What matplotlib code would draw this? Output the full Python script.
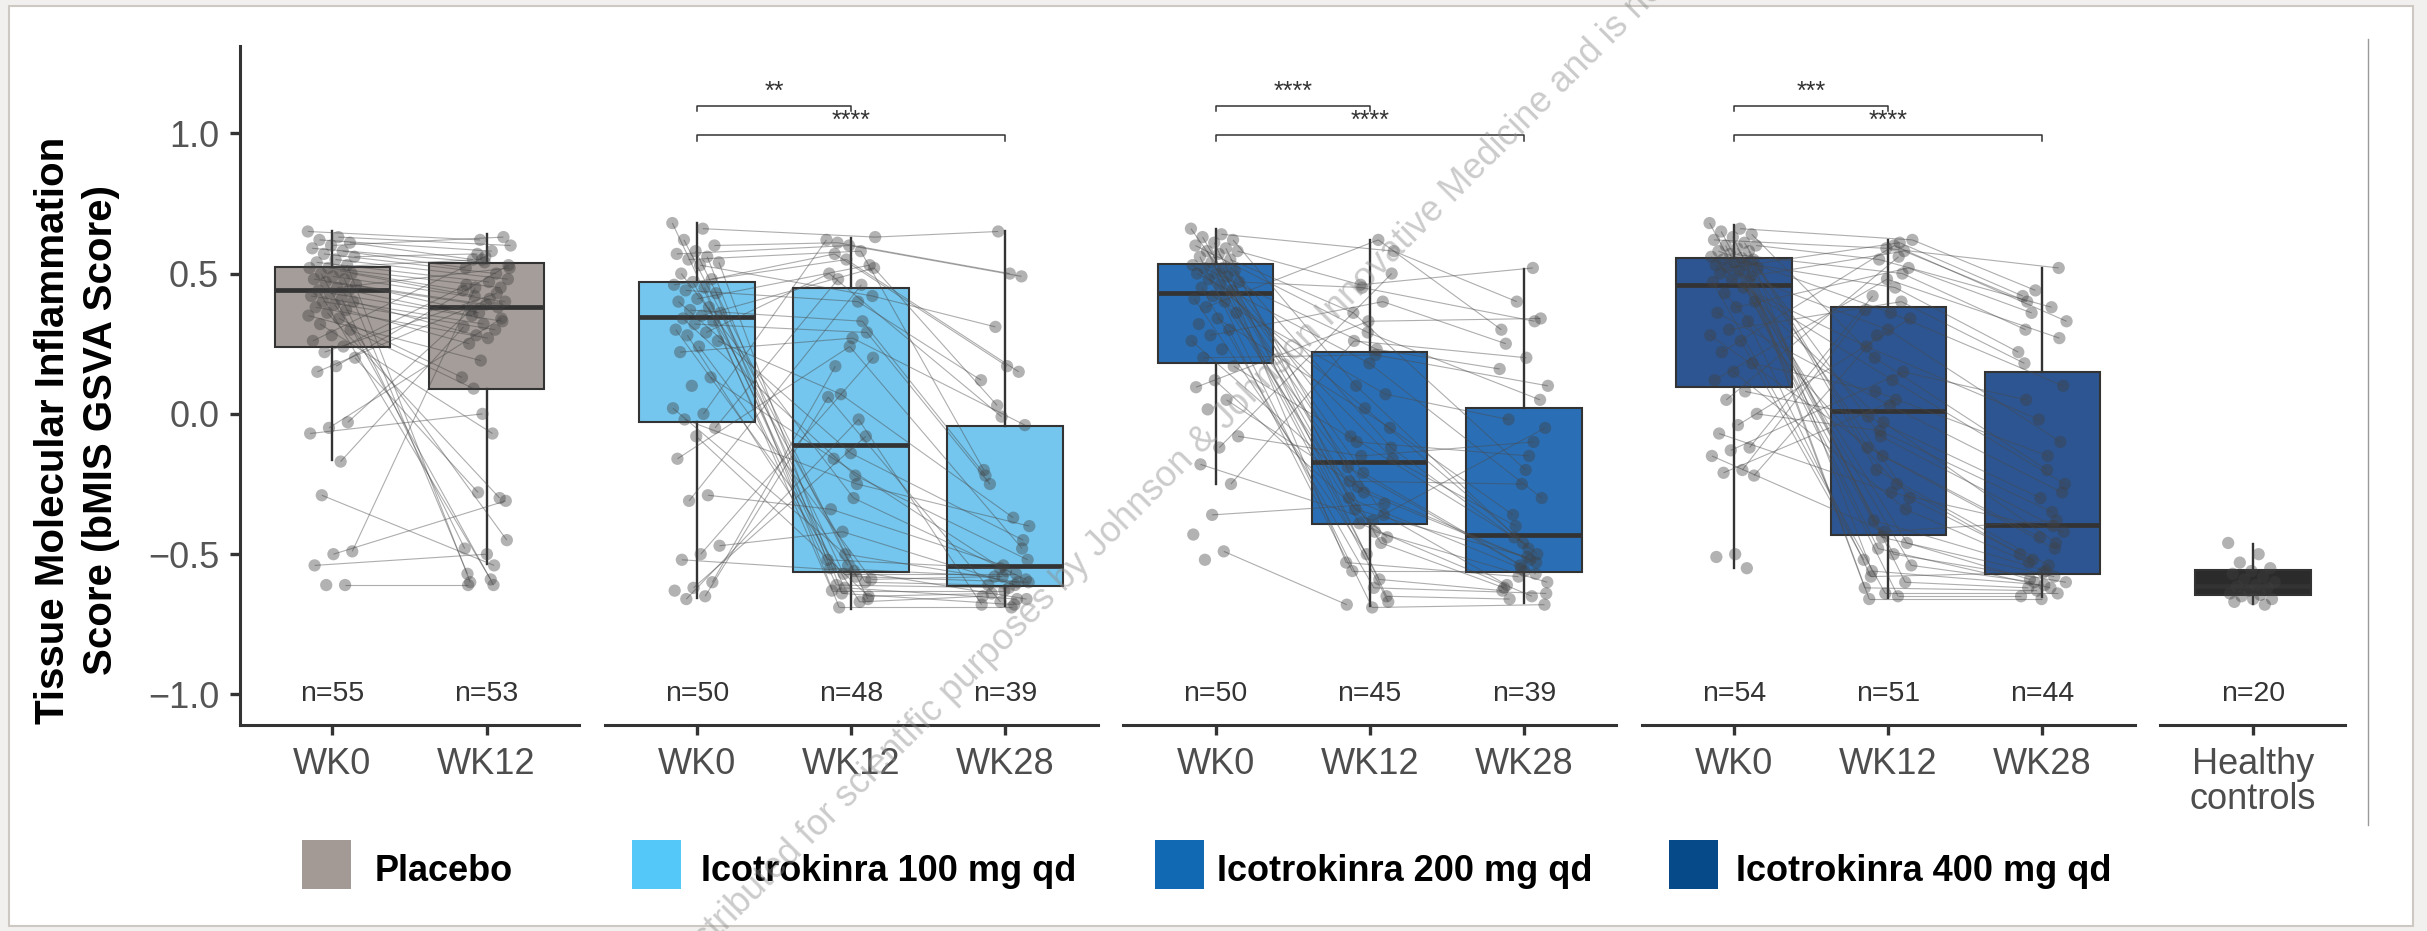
import numpy as np
import matplotlib.pyplot as plt
from matplotlib.patches import Rectangle
from matplotlib.lines import Line2D
from matplotlib.collections import LineCollection

plt.rcParams['font.family'] = ['Liberation Sans', 'DejaVu Sans']

nan = np.nan

visits3 = ['WK0', 'WK12', 'WK28']
visits2 = ['WK0', 'WK12']

# placebo: one entry per patient, nan = visit missing
pbo_wk0 = [0.65, 0.63, 0.62, 0.61, 0.60, 0.59, 0.58, 0.57, 0.56, 0.55,
           0.54, 0.53, 0.52, 0.52, 0.51, 0.50, 0.50, 0.49, 0.48, 0.48,
           0.47, 0.46, 0.45, 0.44, 0.44, 0.43, 0.42, 0.41, 0.40, 0.40,
           0.39, 0.38, 0.37, 0.36, 0.35, 0.34, 0.32, 0.30, 0.28, 0.26,
           0.24, 0.22, 0.20, 0.17, 0.15, -0.03, -0.05, -0.07, -0.17, -0.29,
           -0.49, -0.50, -0.54, -0.61, -0.61]
pbo_wk12 = [0.62, 0.60, 0.58, 0.55, 0.63, 0.54, 0.52, 0.50, 0.57, 0.48,
            0.47, -0.60, 0.45, 0.55, 0.44, -0.61, 0.42, 0.40, 0.39, -0.57,
            0.38, 0.36, 0.52, -0.59, 0.35, 0.33, 0.32, -0.48, 0.30, 0.28,
            -0.45, 0.27, 0.25, -0.30, 0.19, 0.13, -0.07, 0.09, nan, 0.56,
            0.46, 0.43, -0.28, 0.53, 0.41, 0.37, 0.34, 0.0, 0.31, -0.54,
            0.45, -0.31, -0.50, -0.61, nan]

# icotrokinra 100 mg
d100_wk0 = [0.68, 0.66, 0.62, 0.60, 0.58, 0.57, 0.56, 0.55, 0.54, 0.53,
            0.50, 0.48, 0.47, 0.46, 0.45, 0.44, 0.43, 0.41, 0.40, 0.38,
            0.37, 0.36, 0.35, 0.34, 0.33, 0.32, 0.30, 0.29, 0.28, 0.26,
            0.24, 0.22, 0.13, 0.10, 0.02, 0.0, -0.02, -0.05, -0.08, -0.16,
            -0.29, -0.31, -0.47, -0.50, -0.52, -0.60, -0.62, -0.63, -0.65, -0.66]
d100_wk12 = [-0.62, 0.63, -0.58, 0.61, -0.66, 0.60, -0.55, 0.58, -0.64, 0.42,
             -0.30, 0.57, -0.60, 0.55, -0.52, 0.40, -0.69, 0.53, -0.14, -0.63,
             0.33, -0.57, 0.52, -0.22, -0.61, 0.29, -0.54, 0.50, -0.67, 0.07,
             -0.59, 0.27, -0.16, nan, -0.50, 0.62, -0.25, 0.48, -0.65, 0.24,
             -0.34, 0.46, -0.42, 0.20, -0.56, 0.17, -0.08, nan, 0.06, -0.02]
d100_wk28 = [-0.66, 0.65, -0.60, 0.50, nan, 0.49, -0.58, -0.20, -0.68, 0.31,
             -0.59, 0.17, -0.61, 0.15, -0.55, 0.12, -0.69, nan, -0.45, -0.63,
             -0.22, -0.57, 0.03, -0.52, -0.62, -0.25, nan, -0.01, -0.65, -0.37,
             -0.58, -0.04, -0.56, nan, -0.60, nan, -0.40, nan, -0.64, -0.48,
             -0.54, nan, -0.61, nan, -0.66, nan, nan, nan, -0.67, -0.68]

# icotrokinra 200 mg
d200_wk0 = [0.66, 0.64, 0.63, 0.62, 0.61, 0.60, 0.59, 0.58, 0.58, 0.57,
            0.56, 0.55, 0.54, 0.53, 0.52, 0.52, 0.51, 0.50, 0.50, 0.49,
            0.48, 0.47, 0.46, 0.45, 0.44, 0.42, 0.41, 0.40, 0.38, 0.36,
            0.34, 0.32, 0.30, 0.28, 0.26, 0.23, 0.20, 0.17, 0.12, 0.095,
            0.05, 0.016, -0.08, -0.12, -0.18, -0.25, -0.36, -0.43, -0.49, -0.52]
d200_wk12 = [-0.21, 0.58, -0.42, 0.10, -0.65, 0.29, -0.30, -0.59, 0.46, -0.12,
             -0.69, 0.36, -0.36, 0.02, -0.53, 0.23, -0.26, -0.67, 0.18, -0.08,
             -0.46, 0.45, -0.16, -0.62, -0.34, 0.07, -0.50, -0.19, 0.62, -0.39,
             -0.05, nan, -0.56, 0.40, -0.28, nan, 0.21, -0.10, -0.44, 0.33,
             -0.24, nan, -0.15, 0.50, -0.38, 0.26, -0.32, nan, -0.68, nan]
d200_wk28 = [-0.57, 0.40, -0.60, -0.48, -0.66, 0.05, -0.55, -0.63, 0.52, -0.44,
             -0.68, -0.20, -0.61, -0.50, -0.58, 0.16, -0.52, nan, -0.30, -0.46,
             -0.62, 0.33, -0.40, -0.64, -0.51, -0.02, nan, -0.54, 0.30, -0.65,
             -0.36, nan, -0.56, 0.25, -0.53, nan, 0.10, -0.15, nan, 0.34,
             -0.25, nan, -0.10, nan, -0.05, 0.20, nan, nan, nan, nan]

# icotrokinra 400 mg
d400_wk0 = [0.68, 0.66, 0.65, 0.64, 0.63, 0.62, 0.61, 0.60, 0.60, 0.59,
            0.58, 0.58, 0.57, 0.56, 0.555, 0.55, 0.55, 0.54, 0.53, 0.53,
            0.52, 0.52, 0.51, 0.50, 0.49, 0.48, 0.47, 0.45, 0.43, 0.40,
            0.38, 0.36, 0.33, 0.30, 0.28, 0.26, 0.22, 0.18, 0.15, 0.12,
            0.08, 0.05, 0.0, -0.04, -0.07, -0.12, -0.13, -0.15, -0.20, -0.21,
            -0.22, -0.50, -0.51, -0.55]
d400_wk12 = [-0.44, 0.62, -0.50, 0.20, -0.60, 0.59, -0.12, -0.65, 0.55, -0.30,
             0.36, -0.56, 0.50, -0.03, -0.62, 0.45, -0.20, -0.46, 0.30, -0.66,
             0.61, -0.08, -0.54, 0.12, -0.38, 0.58, -0.64, 0.24, -0.25, -0.48,
             0.52, 0.03, -0.58, 0.40, -0.15, -0.52, 0.60, 0.08, -0.34, 0.48,
             -0.01, 0.56, -0.06, 0.34, -0.28, 0.42, 0.15, -0.42, 0.37, 0.05,
             0.28, nan, nan, nan]
d400_wk28 = [-0.58, 0.44, -0.60, -0.20, -0.62, 0.52, -0.44, -0.65, 0.38, -0.52,
             0.10, -0.61, 0.30, -0.46, -0.63, 0.22, -0.54, -0.59, -0.10, -0.66,
             0.42, -0.40, -0.60, -0.25, -0.56, 0.40, -0.64, -0.02, -0.50, -0.62,
             0.36, -0.28, -0.565, 0.18, -0.48, nan, 0.33, -0.15, -0.53, 0.27,
             -0.30, nan, -0.35, nan, -0.42, nan, 0.05, -0.38, nan, nan,
             nan, nan, nan, nan]

# healthy controls
hc_vals = [-0.46, -0.50, -0.53, -0.55, -0.56, -0.57, -0.58, -0.59, -0.60, -0.61,
           -0.615, -0.62, -0.63, -0.64, -0.645, -0.65, -0.66, -0.66, -0.67, -0.68]

# box stats: whisker low, q1, median, q3, whisker high
pbo_box = [[-0.165, 0.237, 0.443, 0.525, 0.650], [-0.536, 0.087, 0.381, 0.538, 0.640]]
d100_box = [[-0.656, -0.029, 0.345, 0.469, 0.681], [-0.695, -0.565, -0.111, 0.449, 0.627],
            [-0.684, -0.613, -0.541, -0.045, 0.652]]
d200_box = [[-0.251, 0.183, 0.430, 0.533, 0.660], [-0.684, -0.393, -0.172, 0.220, 0.621],
            [-0.673, -0.562, -0.433, 0.021, 0.517]]
d400_box = [[-0.549, 0.096, 0.460, 0.556, 0.672], [-0.657, -0.432, 0.012, 0.380, 0.621],
            [-0.653, -0.569, -0.395, 0.151, 0.519]]
hc_box = [[-0.677, -0.647, -0.612, -0.555, -0.463]]

pbo_n = [55, 53]
d100_n = [50, 48, 39]
d200_n = [50, 45, 39]
d400_n = [54, 51, 44]
hc_n = [20]

d100_sig = ['**', '****']
d200_sig = ['****', '****']
d400_sig = ['***', '****']

legend_labels = ['Placebo', 'Icotrokinra 100 mg qd', 'Icotrokinra 200 mg qd', 'Icotrokinra 400 mg qd']
legend_colors = ['#A39A95', '#55C8FA', '#1168B3', '#064A89']
box_colors = ['#A59D99', '#74C6EE', '#2A6FB6', '#2C5591', '#2B2B2B']

EDGE = '#333333'
W, H = 2427, 931


def jitter(n, j):
    # fixed spread pattern so points do not sit on one line
    return ((np.arange(n) * 0.618034 + j * 0.37) % 1.0 - 0.5) * 0.32


def draw_panel(ax, names, visits, box, color, ns, sig=None):
    k = len(names)
    pos = np.arange(1, k + 1)
    stats = [dict(whislo=b[0], q1=b[1], med=b[2], q3=b[3], whishi=b[4]) for b in box]
    ax.bxp(stats, positions=pos, widths=0.75, patch_artist=True, showfliers=False,
           showcaps=False, zorder=2,
           boxprops=dict(facecolor=color, edgecolor=EDGE, linewidth=1.5),
           medianprops=dict(color=EDGE, linewidth=3.4, solid_capstyle='butt'),
           whiskerprops=dict(color=EDGE, linewidth=1.7))

    vals = np.array(visits, dtype=float)
    xs = np.array([j + 1 + jitter(vals.shape[1], j) for j in range(k)])
    segs = []
    for j in range(k - 1):
        ok = ~np.isnan(vals[j]) & ~np.isnan(vals[j + 1])
        for x0, y0, x1, y1 in zip(xs[j][ok], vals[j][ok], xs[j + 1][ok], vals[j + 1][ok]):
            segs.append([(x0, y0), (x1, y1)])
    if segs:
        ax.add_collection(LineCollection(segs, colors='#4A4A4A', linewidths=0.8,
                                         alpha=0.45, zorder=3))
    ok = ~np.isnan(vals)
    ax.scatter(xs[ok], vals[ok], s=78, color='#404040', alpha=0.4,
               edgecolors='none', zorder=4)

    for j, n in enumerate(ns):
        ax.text(j + 1, -1.0, f'n={n}', ha='center', va='center', fontsize=20.5, color=EDGE)

    if sig:
        for (end, star, yb) in zip([2, 3], sig, [1.098, 0.994]):
            ax.plot([1, 1, end, end], [yb - 0.02, yb, yb, yb - 0.02], color=EDGE,
                    lw=1.1, clip_on=False, zorder=5)
            ax.text((1 + end) / 2, yb + 0.006, star, ha='center', va='bottom',
                    fontsize=18, color=EDGE)

    ax.set_xlim(0.4, k + 0.6)
    ax.set_ylim(-1.107, 1.311)
    ax.set_xticks(pos)
    ax.set_xticklabels(names)
    ax.tick_params(axis='x', length=7, width=2.4, color=EDGE, labelsize=26,
                   labelcolor='#4D4D4D', pad=9)
    for s in ['top', 'right', 'left']:
        ax.spines[s].set_visible(False)
    ax.spines['bottom'].set_linewidth(2.2)
    ax.spines['bottom'].set_color(EDGE)
    ax.set_yticks([])


fig = plt.figure(figsize=(W / 100, H / 100), dpi=100)
fig.patch.set_facecolor('#F1F0EE')
fig.add_artist(Rectangle((9 / W, 1 - 926 / H), (2413 - 9) / W, (926 - 6) / H,
                         transform=fig.transFigure, facecolor='white',
                         edgecolor='#CDC8C2', lw=1.5, zorder=0))

unit, gap, left0, bot_px, top_px = 154.1, 25.5, 240, 724.5, 46
spans = [2.2, 3.2, 3.2, 3.2, 1.2]
axes = []
x = left0
for sp in spans:
    w = sp * unit
    axes.append(fig.add_axes([x / W, 1 - bot_px / H, w / W, (bot_px - top_px) / H]))
    x += w + gap
for ax in axes:
    ax.patch.set_alpha(0)

draw_panel(axes[0], visits2, [pbo_wk0, pbo_wk12], pbo_box, box_colors[0], pbo_n)
draw_panel(axes[1], visits3, [d100_wk0, d100_wk12, d100_wk28], d100_box, box_colors[1], d100_n, d100_sig)
draw_panel(axes[2], visits3, [d200_wk0, d200_wk12, d200_wk28], d200_box, box_colors[2], d200_n, d200_sig)
draw_panel(axes[3], visits3, [d400_wk0, d400_wk12, d400_wk28], d400_box, box_colors[3], d400_n, d400_sig)
draw_panel(axes[4], ['Healthy\ncontrols'], [hc_vals], hc_box, box_colors[4], hc_n)
for t in axes[4].get_xticklabels():
    t.set_linespacing(1.0)

ax0 = axes[0]
ax0.spines['left'].set_visible(True)
ax0.spines['left'].set_linewidth(2.2)
ax0.spines['left'].set_color(EDGE)
yt = [-1.0, -0.5, 0.0, 0.5, 1.0]
ax0.set_yticks(yt)
ax0.set_yticklabels([f'{v:.1f}'.replace('-', '\u2212') for v in yt])
ax0.tick_params(axis='y', length=7, width=2.4, color=EDGE, labelsize=26,
                labelcolor='#555555', pad=8)

fig.text(77 / W, 1 - 430 / H, 'Tissue Molecular Inflammation\nScore (bMIS GSVA Score)',
         rotation=90, ha='center', va='center', fontsize=29, fontweight='bold',
         color='black', linespacing=1.32)

# legend
sq_x = [302, 632, 1155, 1669]
tx_x = [375, 701, 1217, 1736]
for lab, col, sx, tx in zip(legend_labels, legend_colors, sq_x, tx_x):
    fig.add_artist(Rectangle((sx / W, 1 - 889 / H), 49 / W, 49 / H,
                             transform=fig.transFigure, facecolor=col, edgecolor='none'))
    fig.text(tx / W, 1 - 881 / H, lab, ha='left', va='baseline', fontsize=26,
             fontweight='bold', color='black')

fig.add_artist(Line2D([2368 / W, 2368 / W], [1 - 39 / H, 1 - 825 / H],
                      transform=fig.transFigure, color='#9A9A9A', lw=1))

# watermark (runs off the edges, as in the source)
ax_w = (1195 / W, 1 - 462 / H)
fig.text(*ax_w, 'distributed for scientific purposes by Johnson',
         rotation=45, rotation_mode='anchor', ha='right', va='baseline',
         fontsize=26, color='#8C8C8C', alpha=0.45, zorder=10)
fig.text(*ax_w, ' & Johnson Innovative Medicine and is not',
         rotation=45, rotation_mode='anchor', ha='left', va='baseline',
         fontsize=26, color='#8C8C8C', alpha=0.45, zorder=10)

fig.savefig('out.png', dpi=100, facecolor=fig.get_facecolor())
